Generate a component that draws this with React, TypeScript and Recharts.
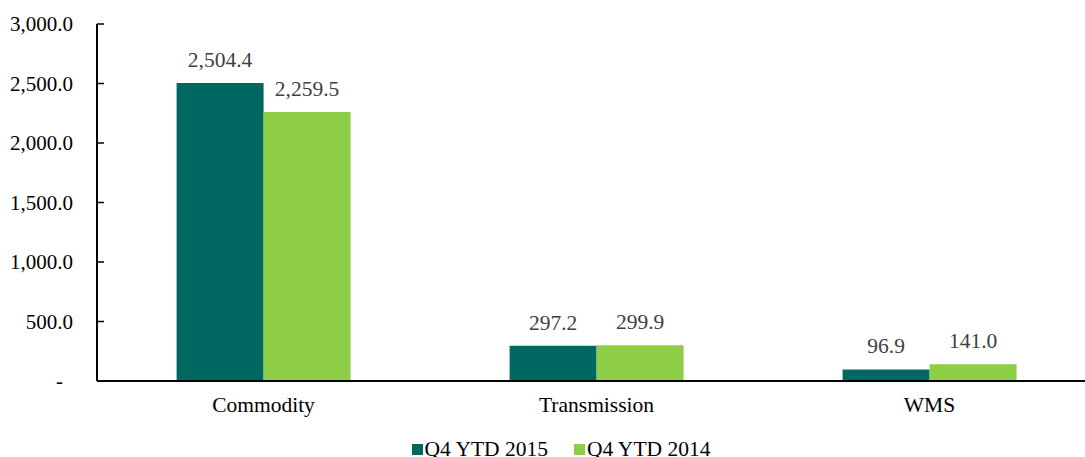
import React from 'react';
import { BarChart, Bar, XAxis, YAxis, Legend, LabelList } from 'recharts';

const categories = ['Commodity', 'Transmission', 'WMS'];
const ytd2015 = [2504.4, 297.2, 96.9];
const ytd2014 = [2259.5, 299.9, 141.0];
const yTicks = [0, 500, 1000, 1500, 2000, 2500, 3000];
const seriesNames = ['Q4 YTD 2015', 'Q4 YTD 2014'];
const seriesColors = ['#006861', '#8dce46'];

const data = categories.map((c, i) => ({ name: c, y2015: ytd2015[i], y2014: ytd2014[i] }));

const fmt = (v: number) =>
  v === 0 ? '-' : v.toLocaleString('en-US', { minimumFractionDigits: 1, maximumFractionDigits: 1 });

const FONT = '"Liberation Serif", "Times New Roman", serif';
const TICK_GAP = 24;

const YTick = (props: any) => {
  const { x, y, payload } = props;
  const v = payload.value as number;
  return (
    <g>
      <line x1={x + TICK_GAP} x2={x + TICK_GAP + 7} y1={y} y2={y} stroke="#000" strokeWidth={1.5} />
      <text
        x={v === 0 ? x - 10 : x}
        y={y}
        dy="0.35em"
        textAnchor="end"
        fill="#000"
        fontSize={21}
        fontFamily={FONT}
      >
        {fmt(v)}
      </text>
    </g>
  );
};

const LegendContent = () => (
  <div
    style={{
      height: 16,
      lineHeight: '16px',
      display: 'flex',
      justifyContent: 'center',
      paddingLeft: 26,
      fontFamily: FONT,
      fontSize: 21.5,
      color: '#000',
      overflow: 'visible',
    }}
  >
    {seriesNames.map((n, i) => (
      <span key={n} style={{ display: 'inline-flex', alignItems: 'center', marginRight: i === 0 ? 26 : 0 }}>
        <span style={{ width: 11, height: 11, background: seriesColors[i], display: 'inline-block', marginRight: 2 }} />
        {n}
      </span>
    ))}
  </div>
);

export default function App() {
  return (
    <div style={{ position: 'absolute', left: 0, top: 0, width: 1085, height: 457, background: '#fff', overflow: 'hidden' }}>
      <BarChart
        width={1085}
        height={457}
        data={data}
        margin={{ top: 24, right: -11, left: 0, bottom: 0 }}
        barCategoryGap="23.9%"
        barGap={0}
        style={{ overflow: 'visible' }}
      >
        <XAxis
          dataKey="name"
          tickLine={false}
          axisLine={{ stroke: '#000', strokeWidth: 2 }}
          tick={{ fill: '#000', fontSize: 21.5, fontFamily: FONT }}
          tickMargin={10}
          height={60}
        />
        <YAxis
          width={97}
          domain={[0, 3000]}
          ticks={yTicks}
          axisLine={{ stroke: '#000', strokeWidth: 2 }}
          tickLine={false}
          tickSize={0}
          tickMargin={TICK_GAP}
          tick={<YTick />}
          interval={0}
        />
        <Legend verticalAlign="bottom" content={<LegendContent />} />
        <Bar dataKey="y2015" name={seriesNames[0]} fill={seriesColors[0]} isAnimationActive={false}>
          <LabelList dataKey="y2015" position="top" offset={16} formatter={(v: number) => fmt(v)} style={{ fill: '#404040', fontSize: 21.5, fontFamily: FONT }} />
        </Bar>
        <Bar dataKey="y2014" name={seriesNames[1]} fill={seriesColors[1]} isAnimationActive={false}>
          <LabelList dataKey="y2014" position="top" offset={16} formatter={(v: number) => fmt(v)} style={{ fill: '#404040', fontSize: 21.5, fontFamily: FONT }} />
        </Bar>
      </BarChart>
    </div>
  );
}
